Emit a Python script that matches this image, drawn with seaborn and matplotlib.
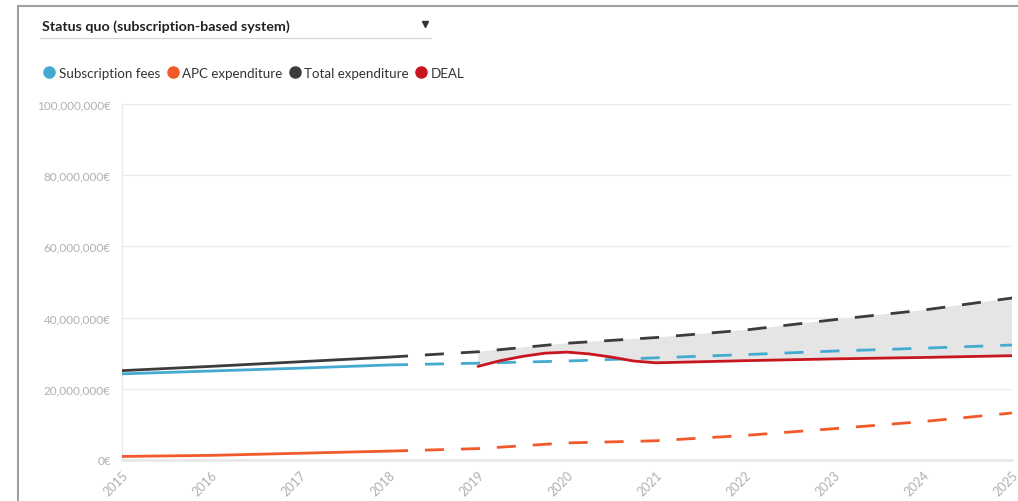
import numpy as np
import pandas as pd
import matplotlib
matplotlib.use('Agg')
import matplotlib.pyplot as plt
from matplotlib.lines import Line2D
from matplotlib.ticker import FuncFormatter
import seaborn as sns

# values in millions of euros
years = [2015, 2016, 2017, 2018, 2019, 2020, 2021, 2022, 2023, 2024, 2025]
subscription = [24.2, 25.0, 25.8, 26.7, 27.2, 27.8, 28.7, 29.6, 30.6, 31.4, 32.3]
apc = [1.0, 1.3, 1.9, 2.5, 3.2, 4.8, 5.4, 6.9, 8.8, 10.8, 13.2]
total = [25.1, 26.3, 27.6, 28.9, 30.4, 32.8, 34.4, 36.5, 39.4, 42.1, 45.5]

deal_years = [2019, 2019.25, 2019.5, 2019.75, 2020, 2020.25, 2020.5, 2020.75,
              2021, 2022, 2023, 2024, 2025]
deal = [26.3, 27.9, 29.1, 30.0, 30.3, 29.8, 28.9, 27.8,
        27.3, 27.9, 28.4, 28.8, 29.3]

series_names = ['Subscription fees', 'APC expenditure', 'Total expenditure', 'DEAL']
colors = ['#44aad0', '#f05a28', '#3c3c3c', '#c8161e']
last_actual = 2018  # solid up to here, dashed projection afterwards

sns.set_style('white')
plt.rcParams['font.family'] = ['Lato', 'DejaVu Sans']
plt.rcParams['lines.scale_dashes'] = False

df = pd.DataFrame({'year': years,
                   'Subscription fees': np.array(subscription) * 1e6,
                   'APC expenditure': np.array(apc) * 1e6,
                   'Total expenditure': np.array(total) * 1e6})
deal_df = pd.DataFrame({'year': deal_years, 'value': np.array(deal) * 1e6})

fig = plt.figure(figsize=(10.18, 5.02), dpi=100)
ax = fig.add_axes([122 / 1018, 1 - 461 / 502, 890 / 1018, 356 / 502])

# grey gap between total expenditure and DEAL
proj = df[df['year'] >= 2019]
ax.fill(np.r_[proj['year'].values, deal_df['year'].values[::-1]],
        np.r_[proj['Total expenditure'].values, deal_df['value'].values[::-1]],
        color='#e5e5e5', lw=0, zorder=1)

dash = (0, (13.7, 12.2))
for name, col in zip(series_names[:3], colors[:3]):
    hist = df[df['year'] <= last_actual]
    fut = df[df['year'] >= last_actual]
    sns.lineplot(data=hist, x='year', y=name, ax=ax, color=col, lw=2,
                 errorbar=None, zorder=3)
    sns.lineplot(data=fut, x='year', y=name, ax=ax, color=col, lw=2,
                 errorbar=None, linestyle=dash, zorder=3)

sns.lineplot(data=deal_df, x='year', y='value', ax=ax, color=colors[3], lw=2,
             errorbar=None, zorder=4)
ax.lines[-1].set_solid_joinstyle('round')

ax.set_xlim(2015, 2025)
ax.set_ylim(0, 100e6)
ax.set_xticks(years)
ax.set_xticklabels([str(y) for y in years], rotation=45, ha='right',
                   va='top', rotation_mode='anchor')
ax.set_yticks(np.arange(0, 100e6 + 1, 20e6))
ax.yaxis.set_major_formatter(FuncFormatter(lambda v, p: f'{v:,.0f}€'))
ax.set_xlabel('')
ax.set_ylabel('')

ax.grid(axis='y', color='#ececec', lw=1)
ax.set_axisbelow(True)
for s in ['top', 'right']:
    ax.spines[s].set_visible(False)
ax.spines['left'].set_color('#ececec')
ax.spines['left'].set_linewidth(1)
ax.spines['bottom'].set_color('#e6e6e6')
ax.spines['bottom'].set_linewidth(1.8)
ax.tick_params(axis='y', length=5, width=1, color='#e6e6e6', labelsize=8.5,
               labelcolor='#b0b0b0', pad=3)
ax.tick_params(axis='x', length=4.5, width=1.5, color='#e6e6e6', labelsize=9,
               labelcolor='#b0b0b0', pad=1.5)
ax.set_facecolor('white')

# legend
handles = [Line2D([], [], marker='o', ls='', color=c, markersize=8)
           for c in colors]
fig.legend(handles, series_names, loc='center left',
           bbox_to_anchor=(38 / 1018, 1 - 74 / 502), ncol=4, frameon=False,
           handlelength=0.7, handletextpad=0.35, columnspacing=0.6,
           borderpad=0, fontsize=9.6, labelcolor='#333333')

# header with dropdown
fig.text(42 / 1018, 1 - 27 / 502, 'Status quo (subscription-based system)',
         fontsize=10.3, fontweight='bold', color='#222222', va='center')
fig.add_artist(Line2D([40 / 1018, 431 / 1018], [1 - 39 / 502, 1 - 39 / 502],
                      color='#d4d4d4', lw=0.8))
fig.add_artist(Line2D([425 / 1018], [1 - 25 / 502], marker='v', color='#333333',
                      markersize=3.8, ls=''))

# panel border (left and top)
fig.add_artist(Line2D([18 / 1018, 18 / 1018], [0, 1 - 7 / 502],
                      color='#a0a0a0', lw=1.5))
fig.add_artist(Line2D([18 / 1018, 1], [1 - 7 / 502, 1 - 7 / 502],
                      color='#a0a0a0', lw=1.5))

fig.savefig('out.png', dpi=100)
